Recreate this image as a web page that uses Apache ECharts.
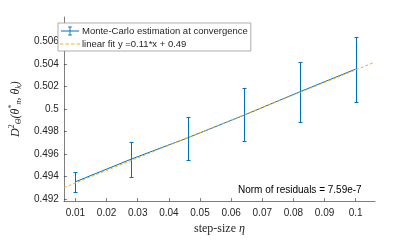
<!DOCTYPE html>
<html><head><meta charset="utf-8">
<script src="https://cdn.jsdelivr.net/npm/echarts@6/dist/echarts.min.js"></script>
<style>html,body{margin:0;padding:0;background:#fff}#c{width:415px;height:240px}</style>
</head><body><div id="c"></div>
<script>
const stepSizes = [0.01, 0.028, 0.046, 0.064, 0.082, 0.1];
const meanValues = [0.49352, 0.49555, 0.49743, 0.49944, 0.50153, 0.50356];
const lowerValues = [0.49257, 0.49395, 0.49546, 0.49718, 0.49889, 0.50064];
const upperValues = [0.49443, 0.49709, 0.49932, 0.50190, 0.50419, 0.50639];
const fitX = [0.0063, 0.106];
const fitY = [0.4930, 0.50416];
const xTicks = [0.01, 0.02, 0.03, 0.04, 0.05, 0.06, 0.07, 0.08, 0.09, 0.1];
const yTicks = [0.492, 0.494, 0.496, 0.498, 0.5, 0.502, 0.504, 0.506];
const legendNames = ['Monte-Carlo estimation at convergence', 'linear fit y =0.11*x + 0.49'];
const noteText = 'Norm of residuals = 7.59e-7';

const blue = '#0072BD', yellow = '#EDB120', axisCol = '#262626';
const font = 'Liberation Sans, Arial, Helvetica, sans-serif';
const serif = 'Liberation Serif, DejaVu Serif, serif';

const chart = echarts.init(document.getElementById('c'), null, {renderer: 'canvas'});
const errData = stepSizes.map((x, i) => [x, lowerValues[i], upperValues[i]]);
chart.setOption({
  animation: false,
  grid: {left: 54, right: 40, top: 17, bottom: 32},
  xAxis: {
    type: 'value', min: 0.0063, max: 0.1062,
    name: 'step-size {i|η}', nameLocation: 'middle', nameGap: 15,
    nameTextStyle: {fontFamily: serif, fontSize: 12, color: axisCol, rich: {i: {fontFamily: serif, fontStyle: 'italic', fontSize: 12, color: axisCol}}},
    axisLine: {lineStyle: {color: axisCol, width: 0.6}},
    axisTick: {inside: true, length: 3, customValues: xTicks, lineStyle: {color: axisCol, width: 0.6}},
    axisLabel: {customValues: xTicks, fontFamily: font, fontSize: 10, color: axisCol, margin: 7,
      formatter: v => String(+v.toFixed(4))},
    splitLine: {show: false}
  },
  yAxis: {
    type: 'value', min: 0.4918, max: 0.5082,
    name: '{d|D}{p|2}{s|Θ}{d|(θ}{p|*}{s|π}{d|, θ}{s|k}{d|)}',
    nameLocation: 'middle', nameGap: 27, nameRotate: 90,
    nameTextStyle: {color: axisCol, rich: {
      d: {fontFamily: serif, fontStyle: 'italic', fontSize: 12, color: axisCol, lineHeight: 16},
      p: {fontFamily: serif, fontSize: 8, color: axisCol, lineHeight: 16, padding: [0, 0, 7, 0]},
      s: {fontFamily: serif, fontStyle: 'italic', fontSize: 8, color: axisCol, lineHeight: 16, padding: [6, 0, 0, 0]}
    }},
    axisLine: {show: true, lineStyle: {color: axisCol, width: 0.6}},
    axisTick: {show: true, inside: true, length: 3, customValues: yTicks, lineStyle: {color: axisCol, width: 0.6}},
    axisLabel: {customValues: yTicks, fontFamily: font, fontSize: 10, color: axisCol, margin: 5,
      formatter: v => String(+v.toFixed(4))},
    splitLine: {show: false}
  },
  legend: {
    left: 58, top: 23, orient: 'vertical', itemGap: 3, padding: [3, 3, 2, 2],
    itemWidth: 20, itemHeight: 9,
    backgroundColor: '#fff', borderColor: '#999', borderWidth: 0.8, borderRadius: 0,
    textStyle: {fontFamily: font, fontSize: 9.5, color: axisCol, padding: [0, 0, 0, -3]},
    data: [
      {name: legendNames[0], icon: 'path://M0,4.5h20v1h-20z M9.5,0h1v10h-1z M8,0h4v1h-4z M8,9h4v1h-4z', itemStyle: {color: blue, opacity: 1}},
      {name: legendNames[1], icon: 'path://M0,4.5h3v1h-3z M5,4.5h3v1h-3z M10,4.5h3v1h-3z M15,4.5h3v1h-3z', itemStyle: {color: yellow, opacity: 1}}
    ]
  },
  graphic: [{
    type: 'text', left: 238, top: 185,
    style: {text: noteText, font: '10px ' + font, fill: '#000'}
  }],
  series: [
    {
      name: legendNames[0], type: 'line', data: stepSizes.map((x, i) => [x, meanValues[i]]),
      showSymbol: false, symbol: 'none', lineStyle: {color: blue, width: 1}, itemStyle: {color: blue}, z: 3
    },
    {
      name: legendNames[0], type: 'custom', data: errData, z: 3,
      renderItem: (params, api) => {
        const x = Math.round(api.coord([api.value(0), api.value(1)])[0]) + 0.5;
        const yl = Math.round(api.coord([api.value(0), api.value(1)])[1]) + 0.5;
        const yh = Math.round(api.coord([api.value(0), api.value(2)])[1]) + 0.5;
        const w = 2;
        const st = {stroke: blue, lineWidth: 1};
        return {type: 'group', children: [
          {type: 'line', shape: {x1: x, y1: yl, x2: x, y2: yh}, style: st},
          {type: 'line', shape: {x1: x - w, y1: yl, x2: x + w, y2: yl}, style: st},
          {type: 'line', shape: {x1: x - w, y1: yh, x2: x + w, y2: yh}, style: st}
        ]};
      }
    },
    {
      name: legendNames[1], type: 'line', data: fitX.map((x, i) => [x, fitY[i]]),
      showSymbol: false, symbol: 'none', z: 4,
      lineStyle: {color: yellow, width: 1, type: [3, 2]}, itemStyle: {color: yellow}
    }
  ]
});
</script></body></html>
